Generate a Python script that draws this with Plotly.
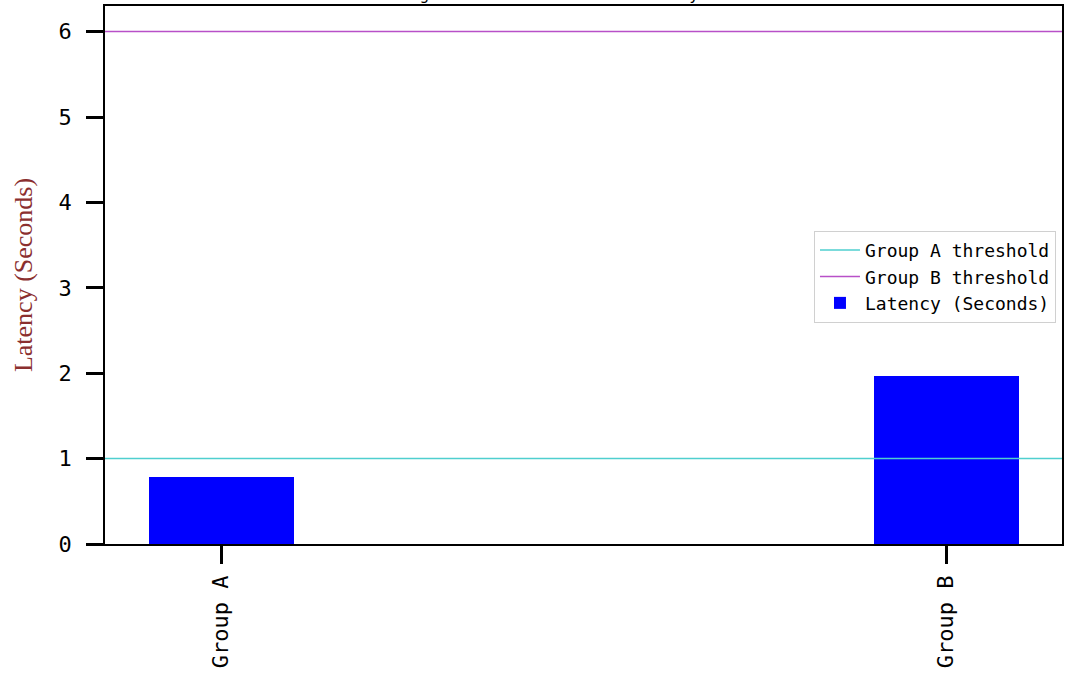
import plotly.graph_objects as go

categories = ["Group A", "Group B"]
positions = [0, 1]
latency = [0.78, 1.97]
threshold_names = ["Group A threshold", "Group B threshold"]
threshold_values = [1, 6]
threshold_colors = ["#4fcfcf", "#b850c8"]
y_ticks = [0, 1, 2, 3, 4, 5, 6]

mono = "DejaVu Sans Mono"

fig = go.Figure()
fig.add_trace(go.Bar(
    x=positions, y=latency, width=0.2, name="Latency (Seconds)",
    marker=dict(color="#0000ff", line=dict(width=0)), legendrank=3,
))
for i, (nm, val, col) in enumerate(zip(threshold_names, threshold_values, threshold_colors)):
    fig.add_shape(type="line", xref="x domain", x0=0, x1=1, yref="y", y0=val, y1=val,
                  line=dict(color=col, width=1.5), showlegend=True, name=nm,
                  legendrank=i + 1, layer="above")

fig.update_layout(
    width=1080, height=679,
    margin=dict(l=105, r=18, t=6, b=135),
    paper_bgcolor="white", plot_bgcolor="white",
    title=dict(text="Average End-to-End Network Latency vs. Limit", x=0.54, xanchor="center",
               yref="container", y=1.0, yanchor="bottom", automargin=False,
               font=dict(family=mono, size=16, color="black")),
    font=dict(family=mono, color="black"),
    showlegend=True,
    legend=dict(x=0.9937, xanchor="right", y=0.582, yanchor="top",
                bgcolor="white", bordercolor="#d0d0d0", borderwidth=1,
                font=dict(family=mono, size=18, color="black"),
                traceorder="normal", tracegroupgap=0, itemwidth=40),
    bargap=0,
)
fig.update_xaxes(
    range=[-0.16, 1.16], tickmode="array", tickvals=positions, ticktext=categories,
    tickangle=-90, ticks="outside", ticklen=18, tickwidth=3, tickcolor="black",
    ticklabelstandoff=3, automargin=False,
    showline=True, linecolor="black", linewidth=1.5, mirror=True,
    showgrid=False, zeroline=False, tickfont=dict(family=mono, size=22, color="black"),
)
fig.update_yaxes(
    range=[0, 6.3], tickmode="array", tickvals=y_ticks,
    ticks="outside", ticklen=17, tickwidth=3, tickcolor="black",
    ticklabelstandoff=10, automargin=False,
    showline=True, linecolor="black", linewidth=1.5, mirror=True,
    showgrid=False, zeroline=False, tickfont=dict(family=mono, size=22, color="black"),
    title=dict(text="Latency (Seconds)", standoff=18,
               font=dict(family="Liberation Serif", size=26, color="#8b2f2f")),
)

fig.write_html("out.html", config={"displayModeBar": False},
               post_script="document.body.style.margin='0';")
